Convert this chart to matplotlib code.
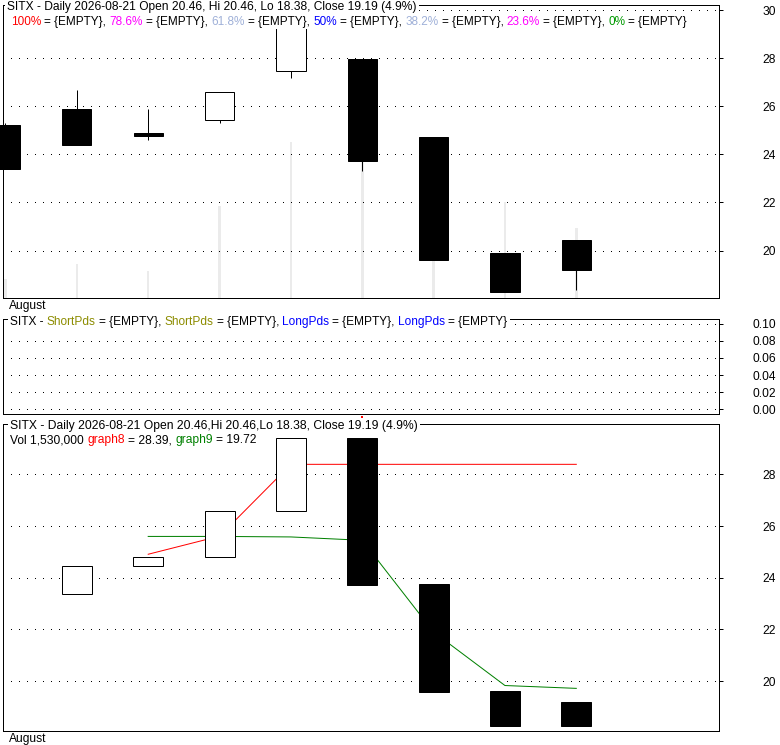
import matplotlib
matplotlib.use("Agg")
import matplotlib.pyplot as plt
from matplotlib.patches import Rectangle

plt.rcParams['font.family'] = ['Liberation Sans', 'DejaVu Sans']

W, H, DPI = 780, 745, 100
PX = 72.0 / DPI          # one pixel in points
FS = 8.64                # ~12 px text

# ---------------- data ----------------
day_index = [0, 1, 2, 3, 4, 5, 6, 7, 8]
opens   = [25.22, 25.89, 24.89, 25.42, 27.46, 27.97, 24.73, 19.90, 20.46]
highs   = [25.30, 26.68, 25.89, 26.60, 29.39, 27.97, 24.73, 19.90, 20.46]
lows    = [23.38, 24.41, 24.58, 25.32, 27.19, 23.29, 19.60, 18.27, 18.38]
closes  = [23.38, 24.41, 24.78, 26.60, 29.39, 23.71, 19.60, 18.30, 19.19]
volumes = [415000, 743000, 590000, 1995000, 3390000, 3200000, 2600000, 2100000, 1530000]

bot_index = [1, 2, 3, 4, 5, 6, 7, 8]
bot_open  = [23.36, 24.45, 24.79, 26.57, 29.40, 23.76, 19.62, 19.19]
bot_close = [24.45, 24.79, 26.57, 29.39, 23.72, 19.59, 18.27, 18.27]

graph_index = [2, 3, 4, 5, 6, 7, 8]
graph8 = [24.91, 25.61, 28.39, 28.39, 28.39, 28.39, 28.39]
graph9 = [25.60, 25.60, 25.58, 25.45, 21.90, 19.83, 19.72]

top_ticks = [20, 22, 24, 26, 28, 30]
pds_ticks = [0.00, 0.02, 0.04, 0.06, 0.08, 0.10]
bot_ticks = [20, 22, 24, 26, 28]
month_label = "August"

RED, MAG, LSB, BLUE = '#ff0000', '#ff00ff', '#9fb0d8', '#0000ff'
GREEN0, GREEN, OLIVE, K = '#009900', '#008000', '#8c8c00', 'black'

# ---------------- figure ----------------
fig = plt.figure(figsize=(W / DPI, H / DPI), dpi=DPI, facecolor='white')


def add_ax(l, t, r, b):
    return fig.add_axes([l / W, 1 - b / H, (r - l) / W, (b - t) / H])


XLIM = (-0.035, 10.0)


def style(ax, ticks, labels, ylim, month=True):
    ax.set_xlim(*XLIM)
    ax.set_ylim(*ylim)
    for sp in ax.spines.values():
        sp.set_linewidth(PX)
        sp.set_color('black')
    ax.yaxis.tick_right()
    ax.set_yticks(ticks)
    ax.set_yticklabels(labels)
    ax.tick_params(axis='y', which='both', direction='out', length=4 * PX,
                   width=PX, pad=53 * PX, labelsize=FS, colors='black',
                   left=False, labelleft=False, right=True, labelright=True)
    for lb in ax.get_yticklabels():
        lb.set_horizontalalignment('right')
    ax.grid(axis='y', color='black', linewidth=PX, linestyle=(0, (1, 7)),
            antialiased=False)
    if month:
        ax.set_xticks([0.053])
        ax.set_xticklabels([month_label])
        ax.tick_params(axis='x', length=0, pad=1.5, labelsize=FS)
        for lb in ax.get_xticklabels():
            lb.set_horizontalalignment('left')
    else:
        ax.set_xticks([])


# ---- top panel: candles + volume ----
ax1 = add_ax(3, 5, 719, 298)
axv = ax1.twinx()
axv.set_ylim(0, 6.38e6)
axv.bar(day_index, volumes, width=0.036, color='#ebebeb', linewidth=0)
axv.axis('off')
axv.set_zorder(1)
ax1.set_zorder(2)
ax1.patch.set_visible(False)

style(ax1, top_ticks, [str(t) for t in top_ticks], (18.03, 30.21))
ax1.vlines(day_index, lows, highs, color='black', linewidth=PX, zorder=3)
for i, o, c in zip(day_index, opens, closes):
    up = c >= o
    ax1.bar(i, abs(c - o), bottom=min(o, c), width=0.41,
            facecolor='white' if up else 'black', edgecolor='black',
            linewidth=PX, zorder=4, clip_on=False)

# ---- middle panel ----
ax2 = add_ax(3, 319.5, 719, 413.5)
style(ax2, pds_ticks, ['%.2f' % t for t in pds_ticks], (-0.0047, 0.1047), month=False)

# ---- bottom panel ----
ax3 = add_ax(3, 423.5, 719, 731)
style(ax3, bot_ticks, [str(t) for t in bot_ticks], (18.07, 29.97))
for i, o, c in zip(bot_index, bot_open, bot_close):
    up = c >= o
    ax3.bar(i, abs(c - o), bottom=min(o, c), width=0.42,
            facecolor='white' if up else 'black', edgecolor='black',
            linewidth=PX, zorder=4, clip_on=False)
ax3.plot(graph_index, graph8, color=RED, linewidth=PX, zorder=3)
ax3.plot(graph_index, graph9, color=GREEN, linewidth=PX, zorder=3)
ax3.plot([5], [30.24], marker='s', markersize=2 * PX, color=RED,
         markeredgewidth=0, linewidth=0, clip_on=False)

# ---------------- header texts ----------------
renderer = fig.canvas.get_renderer()


def text_ext(s, fs, x=0.0, y=0.0):
    t = fig.text(x, y, s, fontsize=fs, ha='left', va='baseline')
    bb = t.get_window_extent(renderer)
    t.remove()
    return bb


def draw_line(x_px, base_px, segs, fs):
    full = " ".join(s for s, _ in segs)
    y = 1 - base_px / H
    bb = text_ext(full, fs, x_px / W, y)
    fig.patches.append(Rectangle((bb.x0 - 2, bb.y0 - 0.5), bb.width + 4, bb.height + 1,
                                 transform=None, facecolor='white',
                                 edgecolor='none', zorder=9))
    prefix = ""
    for s, c in segs:
        off = 0.0 if not prefix else text_ext(prefix + s, fs).width - text_ext(s, fs).width
        fig.text((x_px + off) / W, y, s, fontsize=fs, color=c, ha='left',
                 va='baseline', zorder=10)
        prefix += s + " "


draw_line(7, 10, [("SITX - Daily 2026-08-21 Open 20.46, Hi 20.46, Lo 18.38, Close 19.19 (4.9%)", K)], 8.64)
draw_line(11, 25.3, [("100%", RED), ("= {EMPTY},", K), ("78.6%", MAG), ("= {EMPTY},", K),
                     ("61.8%", LSB), ("= {EMPTY},", K), ("50%", BLUE), ("= {EMPTY},", K),
                     ("38.2%", LSB), ("= {EMPTY},", K), ("23.6%", MAG), ("= {EMPTY},", K),
                     ("0%", GREEN0), ("= {EMPTY}", K)], 8.43)
draw_line(10, 325, [("SITX -", K), ("ShortPds", OLIVE), ("= {EMPTY},", K), ("ShortPds", OLIVE),
                    ("= {EMPTY},", K), ("LongPds", BLUE), ("= {EMPTY},", K), ("LongPds", BLUE),
                    ("= {EMPTY}", K)], 8.6)
draw_line(10, 429, [("SITX - Daily 2026-08-21 Open 20.46,Hi 20.46,Lo 18.38, Close 19.19 (4.9%)", K)], 8.75)
draw_line(10, 443.5, [("Vol 1,530,000", K), ("graph8", RED), ("= 28.39,", K),
                      ("graph9", GREEN), ("= 19.72", K)], 8.64)

fig.savefig("out.png", dpi=DPI, facecolor='white')
